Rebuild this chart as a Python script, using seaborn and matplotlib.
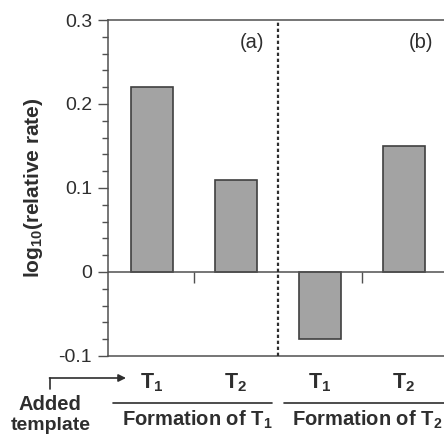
import seaborn as sns
import matplotlib.pyplot as plt
from matplotlib.ticker import MultipleLocator, FuncFormatter
from matplotlib.lines import Line2D

groups = ['a_T1', 'a_T2', 'b_T1', 'b_T2']
tick_labels = [r'$\mathbf{T_1}$', r'$\mathbf{T_2}$', r'$\mathbf{T_1}$', r'$\mathbf{T_2}$']
log_rate = [0.22, 0.11, -0.08, 0.15]
panel_labels = ['(a)', '(b)']
formation_labels = [r'Formation of $\mathbf{T_1}$', r'Formation of $\mathbf{T_2}$']

sns.set_style('ticks')
plt.rcParams['font.family'] = ['Liberation Sans', 'DejaVu Sans']
plt.rcParams['mathtext.fontset'] = 'custom'
plt.rcParams['mathtext.rm'] = 'Liberation Sans'
plt.rcParams['mathtext.bf'] = 'Liberation Sans:bold'

dark = '#2e2e2e'
W, H = 444, 437
fig = plt.figure(figsize=(W / 100, H / 100), dpi=100)
ax = fig.add_axes([108 / W, (H - 356) / H, (W - 108) / W, 336 / H])

sns.barplot(x=groups, y=log_rate, order=groups, color='#a3a3a3', saturation=1,
            edgecolor='#404040', linewidth=1.2, width=0.5, ax=ax)

ax.set_xlim(-0.52, 3.48)
ax.set_ylim(-0.1, 0.3)
ax.yaxis.set_major_locator(MultipleLocator(0.1))
ax.yaxis.set_minor_locator(MultipleLocator(0.02))
ax.yaxis.set_major_formatter(FuncFormatter(lambda v, p: '0' if abs(v) < 1e-9 else f'{v:.1f}'))
ax.tick_params(axis='y', which='major', length=7.5, width=1, color='#505050', pad=4,
               labelsize=14, labelcolor=dark)
ax.tick_params(axis='y', which='minor', length=4, width=1, color='#505050')

ax.set_xticks(range(len(groups)))
ax.set_xticklabels(tick_labels, fontsize=15.5)
ax.tick_params(axis='x', length=0, pad=11, labelcolor=dark)

for side in ['top', 'left', 'bottom']:
    ax.spines[side].set_color('#505050')
    ax.spines[side].set_linewidth(1.1)
ax.spines['right'].set_visible(False)

ax.axhline(0, color='#505050', lw=1.1, zorder=3)
ax.axvline(1.5, color=dark, lw=1.6, ls=(0, (1.5, 1.2)), zorder=3)
ax.vlines([0.5, 2.5], -0.013, 0, color='#505050', lw=1)

ax.set_ylabel(r'$\mathbf{log_{10}}$(relative rate)', fontsize=15, fontweight='bold',
              color=dark, labelpad=10)

ax.set_xlabel('')
for xp, lab in zip([1.19, 3.21], panel_labels):
    ax.text(xp, 0.273, lab, ha='center', va='center', fontsize=14.5, color=dark)

trans = ax.get_xaxis_transform()
ax.plot([-0.46, 1.43], [-0.14, -0.14], color=dark, lw=1.2, transform=trans, clip_on=False)
ax.plot([1.57, 3.6], [-0.14, -0.14], color=dark, lw=1.2, transform=trans, clip_on=False)
for xp, lab in zip([0.54, 2.56], formation_labels):
    ax.text(xp, -0.208, lab, ha='center', va='baseline', fontsize=14.5, fontweight='bold',
            color=dark, transform=trans, clip_on=False)

fig.text(50 / W, 1 - 410 / H, 'Added', ha='center', va='baseline', fontsize=14.5,
         fontweight='bold', color=dark)
fig.text(51 / W, 1 - 430 / H, 'template', ha='center', va='baseline', fontsize=14,
         fontweight='bold', color=dark)
fig.add_artist(Line2D([50 / W, 50 / W], [1 - 389 / H, 1 - 377.5 / H], color=dark, lw=1.2))
ax.annotate('', xy=(126 / W, 1 - 378 / H), xytext=(49.5 / W, 1 - 378 / H),
            xycoords='figure fraction', textcoords='figure fraction',
            arrowprops=dict(arrowstyle='-|>', color=dark, lw=1.2, mutation_scale=11,
                            shrinkA=0, shrinkB=0))

fig.savefig('out.png', dpi=100)
